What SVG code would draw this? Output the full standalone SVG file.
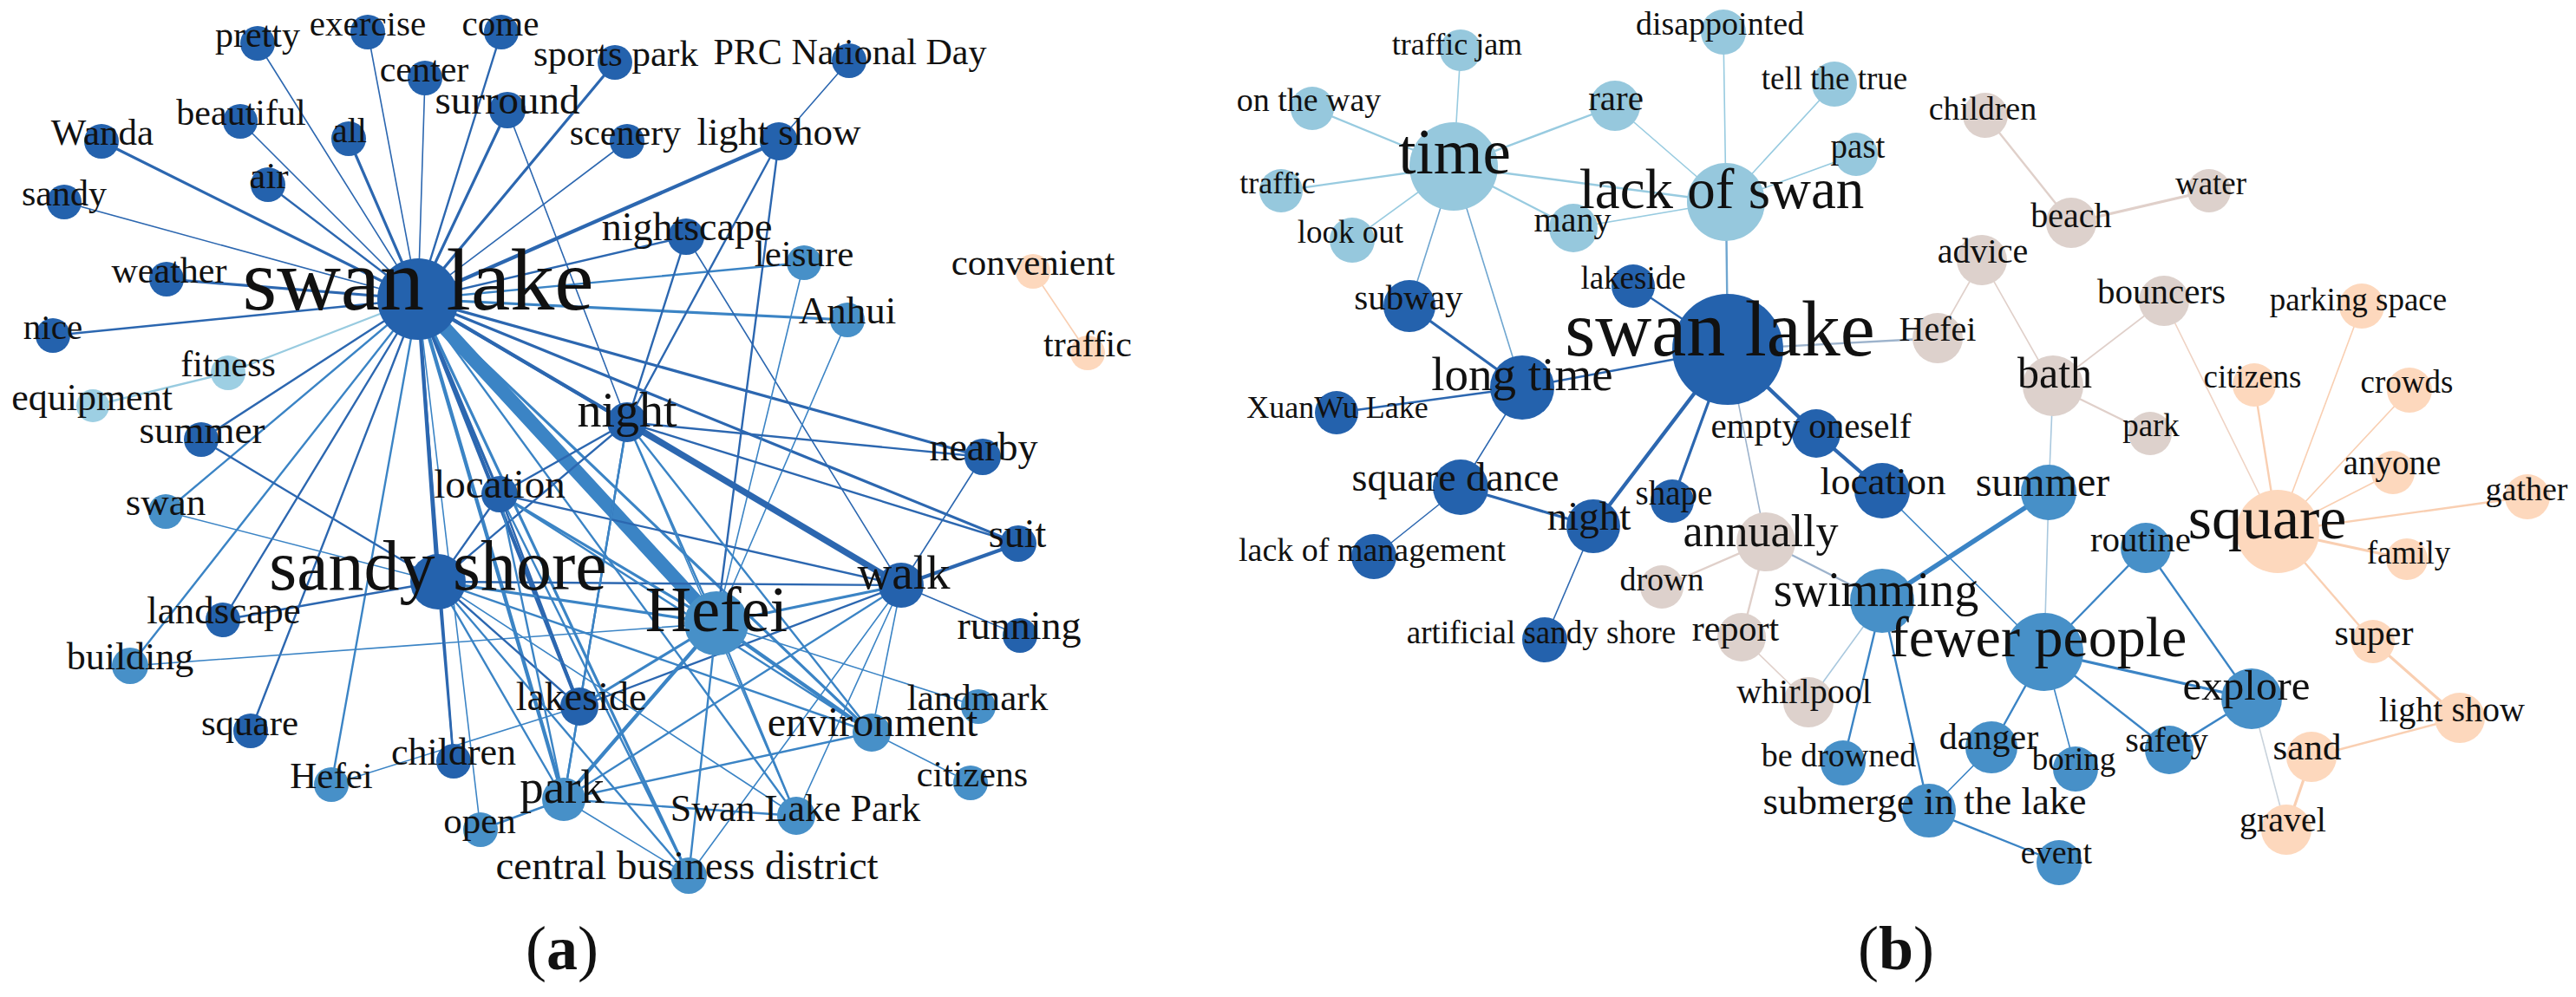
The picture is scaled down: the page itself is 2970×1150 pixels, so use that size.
<svg xmlns="http://www.w3.org/2000/svg" width="2970" height="1150" viewBox="0 0 2970 1150">
<style>
.bg{fill:#fff}
.n circle{stroke:none}
.D{fill:#2462ad}.M{fill:#4790c8}.L{fill:#9dcfe3}.P{fill:#fdd8bd}.R{fill:#96c8dd}.G{fill:#ddd1cc}
text{font-family:"Liberation Serif","Times New Roman",serif;fill:#111;text-anchor:middle}
#edges line{fill:none;stroke-linecap:round}
.ed{stroke:#2c67b0}.em{stroke:#3b84c5}.el{stroke:#98cbe0}.ep{stroke:#f9cfb2}.eg{stroke:#e0d0ca}
.ex{stroke:#6fa6d0}.ey{stroke:#9db3cc}.ez{stroke:#a9c8de}.eq{stroke:#c9d3dc}.ek{stroke:#efd3c4}
.w1{stroke-width:1.6}.w2{stroke-width:2.4}.w3{stroke-width:3.2}.w4{stroke-width:4.3}.w5{stroke-width:5.6}.w6{stroke-width:7.5}.w9{stroke-width:16}
.cap{font-size:72px}
</style>
<rect class="bg" x="0" y="0" width="2970" height="1150"/>
<g id="edges">
<!-- panel a: swan lake hub -->
<line class="ed w1" x1="482" y1="345" x2="297" y2="50"/>
<line class="ed w1" x1="482" y1="345" x2="424" y2="37"/>
<line class="ed w2" x1="482" y1="345" x2="578" y2="37"/>
<line class="ed w1" x1="482" y1="345" x2="490" y2="90"/>
<line class="ed w3" x1="482" y1="345" x2="585" y2="127"/>
<line class="ed w1" x1="482" y1="345" x2="277" y2="140"/>
<line class="ed w3" x1="482" y1="345" x2="402" y2="160"/>
<line class="ed w3" x1="482" y1="345" x2="117" y2="163"/>
<line class="ed w2" x1="482" y1="345" x2="309" y2="213"/>
<line class="ed w1" x1="482" y1="345" x2="74" y2="233"/>
<line class="ed w3" x1="482" y1="345" x2="192" y2="322"/>
<line class="ed w2" x1="482" y1="345" x2="61" y2="387"/>
<line class="el w2" x1="482" y1="345" x2="263" y2="430"/>
<line class="el w2" x1="263" y1="430" x2="107" y2="468"/>
<line class="ed w3" x1="482" y1="345" x2="709" y2="72"/>
<line class="ed w1" x1="482" y1="345" x2="723" y2="163"/>
<line class="ed w4" x1="482" y1="345" x2="898" y2="163"/>
<line class="ed w2" x1="482" y1="345" x2="791" y2="273"/>
<line class="em w2" x1="482" y1="345" x2="927" y2="303"/>
<line class="em w3" x1="482" y1="345" x2="977" y2="369"/>
<line class="ed w3" x1="482" y1="345" x2="1133" y2="527"/>
<line class="ed w3" x1="482" y1="345" x2="1174" y2="627"/>
<line class="ed w4" x1="482" y1="345" x2="723" y2="487"/>
<line class="ed w3" x1="482" y1="345" x2="1039" y2="675"/>
<line class="ed w4" x1="482" y1="345" x2="505" y2="671"/>
<line class="ed w3" x1="482" y1="345" x2="576" y2="570"/>
<line class="ed w4" x1="482" y1="345" x2="668" y2="815"/>
<line class="em w4" x1="482" y1="345" x2="650" y2="922"/>
<line class="ed w2" x1="482" y1="345" x2="232" y2="507"/>
<line class="em w2" x1="482" y1="345" x2="191" y2="590"/>
<line class="ed w2" x1="482" y1="345" x2="257" y2="715"/>
<line class="em w2" x1="482" y1="345" x2="150" y2="768"/>
<line class="ed w2" x1="482" y1="345" x2="289" y2="843"/>
<line class="em w2" x1="482" y1="345" x2="382" y2="905"/>
<line class="ed w2" x1="482" y1="345" x2="523" y2="878"/>
<line class="em w3" x1="482" y1="345" x2="794" y2="1010"/>
<line class="em w3" x1="482" y1="345" x2="1005" y2="845"/>
<line class="em w2" x1="482" y1="345" x2="918" y2="941"/>
<line class="em w1" x1="482" y1="345" x2="554" y2="957"/>
<line class="em w9" x1="482" y1="345" x2="826" y2="719"/>
<!-- panel a: others -->
<line class="ed w1" x1="979" y1="70" x2="898" y2="163"/>
<line class="ed w1" x1="585" y1="127" x2="723" y2="487"/>
<line class="ed w2" x1="898" y1="163" x2="723" y2="487"/>
<line class="ed w2" x1="898" y1="163" x2="826" y2="719"/>
<line class="ed w2" x1="791" y1="273" x2="723" y2="487"/>
<line class="ed w1" x1="791" y1="273" x2="1039" y2="675"/>
<line class="em w1" x1="927" y1="303" x2="826" y2="719"/>
<line class="em w1" x1="977" y1="369" x2="826" y2="719"/>
<line class="ep w1" x1="1191" y1="313" x2="1254" y2="407"/>
<line class="ed w2" x1="232" y1="507" x2="505" y2="671"/>
<line class="em w1" x1="191" y1="590" x2="505" y2="671"/>
<line class="ed w2" x1="257" y1="715" x2="505" y2="671"/>
<line class="em w1" x1="150" y1="768" x2="826" y2="719"/>
<line class="ed w2" x1="505" y1="671" x2="576" y2="570"/>
<line class="ed w2" x1="505" y1="671" x2="723" y2="487"/>
<line class="em w3" x1="505" y1="671" x2="826" y2="719"/>
<line class="ed w2" x1="505" y1="671" x2="1039" y2="675"/>
<line class="ed w2" x1="505" y1="671" x2="668" y2="815"/>
<line class="em w2" x1="505" y1="671" x2="650" y2="922"/>
<line class="ed w2" x1="505" y1="671" x2="523" y2="878"/>
<line class="em w2" x1="505" y1="671" x2="794" y2="1010"/>
<line class="em w1" x1="505" y1="671" x2="918" y2="941"/>
<line class="em w2" x1="505" y1="671" x2="1005" y2="845"/>
<line class="ed w2" x1="576" y1="570" x2="723" y2="487"/>
<line class="em w3" x1="576" y1="570" x2="826" y2="719"/>
<line class="ed w2" x1="576" y1="570" x2="1039" y2="675"/>
<line class="ed w2" x1="576" y1="570" x2="668" y2="815"/>
<line class="em w2" x1="576" y1="570" x2="650" y2="922"/>
<line class="em w2" x1="576" y1="570" x2="794" y2="1010"/>
<line class="em w2" x1="576" y1="570" x2="1005" y2="845"/>
<line class="em w2" x1="723" y1="487" x2="826" y2="719"/>
<line class="ed w6" x1="723" y1="487" x2="1039" y2="675"/>
<line class="ed w2" x1="723" y1="487" x2="1133" y2="527"/>
<line class="ed w2" x1="723" y1="487" x2="1174" y2="627"/>
<line class="ed w2" x1="723" y1="487" x2="668" y2="815"/>
<line class="em w2" x1="723" y1="487" x2="650" y2="922"/>
<line class="em w2" x1="723" y1="487" x2="1005" y2="845"/>
<line class="em w1" x1="723" y1="487" x2="918" y2="941"/>
<line class="ed w4" x1="1039" y1="675" x2="1174" y2="627"/>
<line class="ed w1" x1="1039" y1="675" x2="1133" y2="527"/>
<line class="ed w1" x1="1039" y1="675" x2="1176" y2="733"/>
<line class="em w3" x1="1039" y1="675" x2="826" y2="719"/>
<line class="ed w2" x1="1039" y1="675" x2="668" y2="815"/>
<line class="em w2" x1="1039" y1="675" x2="650" y2="922"/>
<line class="em w1" x1="1039" y1="675" x2="1005" y2="845"/>
<line class="em w1" x1="1039" y1="675" x2="794" y2="1010"/>
<line class="em w1" x1="1039" y1="675" x2="918" y2="941"/>
<line class="em w3" x1="826" y1="719" x2="668" y2="815"/>
<line class="em w4" x1="826" y1="719" x2="650" y2="922"/>
<line class="em w2" x1="826" y1="719" x2="794" y2="1010"/>
<line class="em w2" x1="826" y1="719" x2="918" y2="941"/>
<line class="em w4" x1="826" y1="719" x2="1005" y2="845"/>
<line class="em w1" x1="826" y1="719" x2="1128" y2="815"/>
<line class="em w1" x1="1005" y1="845" x2="1119" y2="903"/>
<line class="em w2" x1="1005" y1="845" x2="650" y2="922"/>
<line class="em w2" x1="668" y1="815" x2="650" y2="922"/>
<line class="em w2" x1="650" y1="922" x2="918" y2="941"/>
<line class="em w2" x1="650" y1="922" x2="554" y2="957"/>
<line class="em w1" x1="650" y1="922" x2="794" y2="1010"/>
<line class="em w1" x1="668" y1="815" x2="382" y2="905"/>
<!-- panel b -->
<line class="el w1" x1="1676" y1="192" x2="1684" y2="58"/>
<line class="el w2" x1="1676" y1="192" x2="1513" y2="125"/>
<line class="el w2" x1="1676" y1="192" x2="1862" y2="122"/>
<line class="el w2" x1="1676" y1="192" x2="1477" y2="220"/>
<line class="el w1" x1="1676" y1="192" x2="1559" y2="277"/>
<line class="el w2" x1="1676" y1="192" x2="1814" y2="263"/>
<line class="el w2" x1="1676" y1="192" x2="1990" y2="233"/>
<line class="ex w1" x1="1676" y1="192" x2="1625" y2="353"/>
<line class="ex w1" x1="1676" y1="192" x2="1755" y2="447"/>
<line class="el w1" x1="1990" y1="233" x2="1862" y2="122"/>
<line class="el w1" x1="1990" y1="233" x2="1987" y2="37"/>
<line class="el w1" x1="1990" y1="233" x2="2115" y2="97"/>
<line class="el w1" x1="1990" y1="233" x2="2140" y2="178"/>
<line class="el w1" x1="1990" y1="233" x2="1814" y2="263"/>
<line class="ex w2" x1="1990" y1="233" x2="1992" y2="403"/>
<line class="ed w2" x1="1992" y1="403" x2="1883" y2="330"/>
<line class="ed w2" x1="1992" y1="403" x2="1755" y2="447"/>
<line class="ed w4" x1="1992" y1="403" x2="1837" y2="607"/>
<line class="ed w3" x1="1992" y1="403" x2="1928" y2="578"/>
<line class="ey w1" x1="1992" y1="403" x2="2036" y2="625"/>
<line class="ed w4" x1="1992" y1="403" x2="2094" y2="500"/>
<line class="ey w2" x1="1992" y1="403" x2="2234" y2="390"/>
<line class="ed w4" x1="2094" y1="500" x2="2170" y2="566"/>
<line class="ed w3" x1="1755" y1="447" x2="1625" y2="353"/>
<line class="ed w2" x1="1755" y1="447" x2="1541" y2="476"/>
<line class="ed w1" x1="1755" y1="447" x2="1684" y2="562"/>
<line class="ed w3" x1="1684" y1="562" x2="1837" y2="607"/>
<line class="ed w1" x1="1684" y1="562" x2="1584" y2="642"/>
<line class="ed w1" x1="1837" y1="607" x2="1781" y2="738"/>
<line class="eg w2" x1="2036" y1="625" x2="1916" y2="677"/>
<line class="eg w2" x1="2036" y1="625" x2="2008" y2="735"/>
<line class="ey w2" x1="2036" y1="625" x2="2170" y2="693"/>
<line class="eg w1" x1="2008" y1="735" x2="2085" y2="810"/>
<line class="ez w1" x1="2085" y1="810" x2="2170" y2="693"/>
<line class="em w5" x1="2170" y1="693" x2="2362" y2="568"/>
<line class="em w2" x1="2170" y1="693" x2="2125" y2="880"/>
<line class="em w2" x1="2170" y1="693" x2="2224" y2="935"/>
<line class="em w1" x1="2170" y1="566" x2="2357" y2="752"/>
<line class="ez w1" x1="2362" y1="568" x2="2367" y2="445"/>
<line class="ez w1" x1="2362" y1="568" x2="2357" y2="752"/>
<line class="em w2" x1="2357" y1="752" x2="2474" y2="632"/>
<line class="em w3" x1="2357" y1="752" x2="2596" y2="806"/>
<line class="em w2" x1="2357" y1="752" x2="2296" y2="862"/>
<line class="em w1" x1="2357" y1="752" x2="2393" y2="887"/>
<line class="em w2" x1="2357" y1="752" x2="2501" y2="865"/>
<line class="em w2" x1="2474" y1="632" x2="2596" y2="806"/>
<line class="em w2" x1="2596" y1="806" x2="2501" y2="865"/>
<line class="eq w1" x1="2596" y1="806" x2="2636" y2="957"/>
<line class="em w1" x1="2296" y1="862" x2="2224" y2="935"/>
<line class="em w2" x1="2224" y1="935" x2="2374" y2="995"/>
<line class="eg w1" x1="2367" y1="445" x2="2495" y2="347"/>
<line class="eg w2" x1="2367" y1="445" x2="2479" y2="500"/>
<line class="eg w1" x1="2367" y1="445" x2="2285" y2="300"/>
<line class="eg w1" x1="2285" y1="300" x2="2234" y2="390"/>
<line class="eg w2" x1="2388" y1="257" x2="2289" y2="133"/>
<line class="eg w3" x1="2388" y1="257" x2="2547" y2="220"/>
<line class="ek w1" x1="2495" y1="347" x2="2626" y2="613"/>
<line class="ep w2" x1="2626" y1="613" x2="2599" y2="444"/>
<line class="ep w1" x1="2626" y1="613" x2="2723" y2="353"/>
<line class="ep w1" x1="2626" y1="613" x2="2778" y2="450"/>
<line class="ep w1" x1="2626" y1="613" x2="2759" y2="545"/>
<line class="ep w2" x1="2626" y1="613" x2="2914" y2="573"/>
<line class="ep w3" x1="2626" y1="613" x2="2775" y2="645"/>
<line class="ep w2" x1="2626" y1="613" x2="2736" y2="740"/>
<line class="ep w3" x1="2736" y1="740" x2="2836" y2="828"/>
<line class="ep w2" x1="2836" y1="828" x2="2665" y2="873"/>
<line class="ep w3" x1="2665" y1="873" x2="2636" y2="957"/>
</g>
<!-- panel a nodes -->
<g id="a-pretty" class="n"><circle class="D" cx="297" cy="50" r="20"/><text x="297" y="54" font-size="42">pretty</text></g>
<g id="a-exercise" class="n"><circle class="D" cx="424" cy="37" r="20"/><text x="424" y="41" font-size="41">exercise</text></g>
<g id="a-come" class="n"><circle class="D" cx="578" cy="37" r="20"/><text x="577" y="41" font-size="41">come</text></g>
<g id="a-center" class="n"><circle class="D" cx="490" cy="90" r="20"/><text x="489" y="94" font-size="42">center</text></g>
<g id="a-surround" class="n"><circle class="D" cx="585" cy="127" r="21"/><text x="585" y="131" font-size="47">surround</text></g>
<g id="a-beautiful" class="n"><circle class="D" cx="277" cy="140" r="20"/><text x="278" y="144" font-size="42">beautiful</text></g>
<g id="a-all" class="n"><circle class="D" cx="402" cy="160" r="20"/><text x="403" y="164" font-size="40">all</text></g>
<g id="a-wanda" class="n"><circle class="D" cx="117" cy="163" r="20"/><text x="118" y="167" font-size="43">Wanda</text></g>
<g id="a-air" class="n"><circle class="D" cx="309" cy="213" r="20"/><text x="310" y="217" font-size="43">air</text></g>
<g id="a-sandy" class="n"><circle class="D" cx="74" cy="233" r="20"/><text x="74" y="237" font-size="42">sandy</text></g>
<g id="a-weather" class="n"><circle class="D" cx="192" cy="322" r="20"/><text x="195" y="326" font-size="42">weather</text></g>
<g id="a-nice" class="n"><circle class="D" cx="61" cy="387" r="20"/><text x="61" y="391" font-size="41">nice</text></g>
<g id="a-fitness" class="n"><circle class="L" cx="263" cy="430" r="20"/><text x="263" y="434" font-size="42">fitness</text></g>
<g id="a-equipment" class="n"><circle class="L" cx="107" cy="468" r="19"/><text x="106" y="473" font-size="44">equipment</text></g>
<g id="a-sports-park" class="n"><circle class="D" cx="709" cy="72" r="20"/><text x="710" y="76" font-size="43">sports park</text></g>
<g id="a-prc" class="n"><circle class="D" cx="979" cy="70" r="20"/><text x="980" y="74" font-size="42">PRC National Day</text></g>
<g id="a-scenery" class="n"><circle class="D" cx="723" cy="163" r="20"/><text x="721" y="167" font-size="42">scenery</text></g>
<g id="a-light-show" class="n"><circle class="D" cx="898" cy="163" r="22"/><text x="898" y="167" font-size="45">light show</text></g>
<g id="a-nightscape" class="n"><circle class="D" cx="791" cy="273" r="21"/><text x="792" y="277" font-size="46">nightscape</text></g>
<g id="a-leisure" class="n"><circle class="M" cx="927" cy="303" r="20"/><text x="927" y="307" font-size="43">leisure</text></g>
<g id="a-anhui" class="n"><circle class="M" cx="977" cy="369" r="20"/><text x="977" y="373" font-size="45">Anhui</text></g>
<g id="a-convenient" class="n"><circle class="P" cx="1191" cy="313" r="20"/><text x="1191" y="317" font-size="43">convenient</text></g>
<g id="a-traffic" class="n"><circle class="P" cx="1254" cy="407" r="20"/><text x="1254" y="411" font-size="42">traffic</text></g>
<g id="a-summer" class="n"><circle class="D" cx="232" cy="507" r="20"/><text x="233" y="511" font-size="45">summer</text></g>
<g id="a-swan" class="n"><circle class="M" cx="191" cy="590" r="20"/><text x="191" y="594" font-size="45">swan</text></g>
<g id="a-landscape" class="n"><circle class="D" cx="257" cy="715" r="20"/><text x="258" y="719" font-size="45">landscape</text></g>
<g id="a-building" class="n"><circle class="M" cx="150" cy="768" r="21"/><text x="150" y="772" font-size="44">building</text></g>
<g id="a-square" class="n"><circle class="D" cx="289" cy="843" r="20"/><text x="288" y="848" font-size="43">square</text></g>
<g id="a-nearby" class="n"><circle class="D" cx="1133" cy="527" r="21"/><text x="1134" y="531" font-size="46">nearby</text></g>
<g id="a-suit" class="n"><circle class="D" cx="1174" cy="627" r="21"/><text x="1173" y="631" font-size="46">suit</text></g>
<g id="a-running" class="n"><circle class="D" cx="1176" cy="733" r="20"/><text x="1175" y="737" font-size="46">running</text></g>
<g id="a-landmark" class="n"><circle class="M" cx="1128" cy="815" r="20"/><text x="1127" y="819" font-size="43">landmark</text></g>
<g id="a-children" class="n"><circle class="D" cx="523" cy="878" r="20"/><text x="523" y="882" font-size="44">children</text></g>
<g id="a-hefei-small" class="n"><circle class="M" cx="382" cy="905" r="20"/><text x="382" y="909" font-size="43">Hefei</text></g>
<g id="a-citizens" class="n"><circle class="M" cx="1119" cy="903" r="20"/><text x="1121" y="907" font-size="42">citizens</text></g>
<g id="a-open" class="n"><circle class="M" cx="554" cy="957" r="20"/><text x="553" y="961" font-size="43">open</text></g>
<g id="a-cbd" class="n"><circle class="M" cx="794" cy="1010" r="21"/><text x="792" y="1014" font-size="47">central business district</text></g>
<g id="a-location" class="n"><circle class="D" cx="576" cy="570" r="21"/><text x="576" y="574" font-size="47">location</text></g>
<g id="a-lakeside" class="n"><circle class="D" cx="668" cy="815" r="22"/><text x="670" y="819" font-size="46">lakeside</text></g>
<g id="a-environment" class="n"><circle class="M" cx="1005" cy="845" r="22"/><text x="1006" y="849" font-size="48">environment</text></g>
<g id="a-swan-lake-park" class="n"><circle class="M" cx="918" cy="941" r="22"/><text x="917" y="947" font-size="44">Swan Lake Park</text></g>
<g id="a-park" class="n"><circle class="M" cx="650" cy="922" r="25"/><text x="648" y="926" font-size="55">park</text></g>
<g id="a-night" class="n"><circle class="D" cx="723" cy="487" r="23"/><text x="723" y="492" font-size="56">night</text></g>
<g id="a-walk" class="n"><circle class="D" cx="1039" cy="675" r="26"/><text x="1042" y="679" font-size="55">walk</text></g>
<g id="a-sandy-shore" class="n"><circle class="D" cx="505" cy="671" r="32"/><text x="505" y="680" font-size="82">sandy shore</text></g>
<g id="a-hefei" class="n"><circle class="M" cx="826" cy="719" r="37"/><text x="826" y="728" font-size="74">Hefei</text></g>
<g id="a-swan-lake" class="n"><circle class="D" cx="482" cy="345" r="47"/><text x="482" y="357" font-size="102">swan lake</text></g>
<!-- panel b nodes -->
<g id="b-traffic-jam" class="n"><circle class="R" cx="1684" cy="58" r="24"/><text x="1680" y="63" font-size="36">traffic jam</text></g>
<g id="b-disappointed" class="n"><circle class="R" cx="1987" cy="37" r="26"/><text x="1983" y="40" font-size="38">disappointed</text></g>
<g id="b-tell-the-true" class="n"><circle class="R" cx="2115" cy="97" r="26"/><text x="2115" y="103" font-size="37">tell the true</text></g>
<g id="b-on-the-way" class="n"><circle class="R" cx="1513" cy="125" r="25"/><text x="1509" y="128" font-size="38">on the way</text></g>
<g id="b-rare" class="n"><circle class="R" cx="1862" cy="122" r="29"/><text x="1863" y="127" font-size="41">rare</text></g>
<g id="b-past" class="n"><circle class="R" cx="2140" cy="178" r="25"/><text x="2142" y="182" font-size="39">past</text></g>
<g id="b-traffic" class="n"><circle class="R" cx="1477" cy="220" r="25"/><text x="1473" y="223" font-size="36">traffic</text></g>
<g id="b-look-out" class="n"><circle class="R" cx="1559" cy="277" r="26"/><text x="1557" y="280" font-size="37">look out</text></g>
<g id="b-many" class="n"><circle class="R" cx="1814" cy="263" r="28"/><text x="1813" y="267" font-size="40">many</text></g>
<g id="b-time" class="n"><circle class="R" cx="1676" cy="192" r="51"/><text x="1677" y="200" font-size="73">time</text></g>
<g id="b-lack-of-swan" class="n"><circle class="R" cx="1990" cy="233" r="45"/><text x="1985" y="240" font-size="65">lack of swan</text></g>
<g id="b-lakeside" class="n"><circle class="D" cx="1883" cy="330" r="25"/><text x="1883" y="333" font-size="37">lakeside</text></g>
<g id="b-subway" class="n"><circle class="D" cx="1625" cy="353" r="30"/><text x="1624" y="357" font-size="41">subway</text></g>
<g id="b-xuanwu-lake" class="n"><circle class="D" cx="1541" cy="476" r="25"/><text x="1542" y="482" font-size="36">XuanWu Lake</text></g>
<g id="b-lack-of-management" class="n"><circle class="D" cx="1584" cy="642" r="26"/><text x="1582" y="647" font-size="38">lack of management</text></g>
<g id="b-artificial-sandy-shore" class="n"><circle class="D" cx="1781" cy="738" r="26"/><text x="1777" y="742" font-size="37">artificial sandy shore</text></g>
<g id="b-square-dance" class="n"><circle class="D" cx="1684" cy="562" r="32"/><text x="1678" y="566" font-size="46">square dance</text></g>
<g id="b-night" class="n"><circle class="D" cx="1837" cy="607" r="31"/><text x="1832" y="611" font-size="47">night</text></g>
<g id="b-shape" class="n"><circle class="D" cx="1928" cy="578" r="25"/><text x="1930" y="582" font-size="39">shape</text></g>
<g id="b-empty-oneself" class="n"><circle class="D" cx="2094" cy="500" r="28"/><text x="2088" y="505" font-size="41">empty oneself</text></g>
<g id="b-location" class="n"><circle class="D" cx="2170" cy="566" r="32"/><text x="2171" y="570" font-size="45">location</text></g>
<g id="b-long-time" class="n"><circle class="D" cx="1755" cy="447" r="37"/><text x="1755" y="450" font-size="55">long time</text></g>
<g id="b-drown" class="n"><circle class="G" cx="1916" cy="677" r="25"/><text x="1916" y="681" font-size="38">drown</text></g>
<g id="b-report" class="n"><circle class="G" cx="2008" cy="735" r="28"/><text x="2001" y="739" font-size="42">report</text></g>
<g id="b-whirlpool" class="n"><circle class="G" cx="2085" cy="810" r="29"/><text x="2080" y="811" font-size="40">whirlpool</text></g>
<g id="b-annually" class="n"><circle class="G" cx="2036" cy="625" r="34"/><text x="2030" y="630" font-size="52">annually</text></g>
<g id="b-children" class="n"><circle class="G" cx="2289" cy="133" r="26"/><text x="2286" y="138" font-size="38">children</text></g>
<g id="b-water" class="n"><circle class="G" cx="2547" cy="220" r="25"/><text x="2549" y="224" font-size="37">water</text></g>
<g id="b-beach" class="n"><circle class="G" cx="2388" cy="257" r="29"/><text x="2388" y="262" font-size="40">beach</text></g>
<g id="b-advice" class="n"><circle class="G" cx="2285" cy="300" r="29"/><text x="2286" y="303" font-size="40">advice</text></g>
<g id="b-bouncers" class="n"><circle class="G" cx="2495" cy="347" r="29"/><text x="2492" y="350" font-size="41">bouncers</text></g>
<g id="b-hefei" class="n"><circle class="G" cx="2234" cy="390" r="29"/><text x="2234" y="393" font-size="40">Hefei</text></g>
<g id="b-park" class="n"><circle class="G" cx="2479" cy="500" r="25"/><text x="2480" y="503" font-size="37">park</text></g>
<g id="b-bath" class="n"><circle class="G" cx="2367" cy="445" r="35"/><text x="2369" y="447" font-size="50">bath</text></g>
<g id="b-parking-space" class="n"><circle class="P" cx="2723" cy="353" r="26"/><text x="2719" y="358" font-size="37">parking space</text></g>
<g id="b-citizens" class="n"><circle class="P" cx="2599" cy="444" r="25"/><text x="2597" y="447" font-size="37">citizens</text></g>
<g id="b-crowds" class="n"><circle class="P" cx="2778" cy="450" r="26"/><text x="2775" y="453" font-size="37">crowds</text></g>
<g id="b-anyone" class="n"><circle class="P" cx="2759" cy="545" r="25"/><text x="2758" y="547" font-size="39">anyone</text></g>
<g id="b-gather" class="n"><circle class="P" cx="2914" cy="573" r="26"/><text x="2913" y="577" font-size="38">gather</text></g>
<g id="b-family" class="n"><circle class="P" cx="2775" cy="645" r="24"/><text x="2777" y="650" font-size="37">family</text></g>
<g id="b-super" class="n"><circle class="P" cx="2736" cy="740" r="25"/><text x="2737" y="744" font-size="42">super</text></g>
<g id="b-light-show" class="n"><circle class="P" cx="2836" cy="828" r="29"/><text x="2827" y="832" font-size="40">light show</text></g>
<g id="b-sand" class="n"><circle class="P" cx="2665" cy="873" r="29"/><text x="2660" y="876" font-size="43">sand</text></g>
<g id="b-gravel" class="n"><circle class="P" cx="2636" cy="957" r="29"/><text x="2632" y="959" font-size="40">gravel</text></g>
<g id="b-square" class="n"><circle class="P" cx="2626" cy="613" r="48"/><text x="2614" y="621" font-size="70">square</text></g>
<g id="b-routine" class="n"><circle class="M" cx="2474" cy="632" r="29"/><text x="2468" y="636" font-size="41">routine</text></g>
<g id="b-summer" class="n"><circle class="M" cx="2362" cy="568" r="32"/><text x="2355" y="572" font-size="48">summer</text></g>
<g id="b-be-drowned" class="n"><circle class="M" cx="2125" cy="880" r="26"/><text x="2120" y="884" font-size="38">be drowned</text></g>
<g id="b-danger" class="n"><circle class="M" cx="2296" cy="862" r="30"/><text x="2293" y="864" font-size="42">danger</text></g>
<g id="b-boring" class="n"><circle class="M" cx="2393" cy="887" r="26"/><text x="2391" y="888" font-size="37">boring</text></g>
<g id="b-safety" class="n"><circle class="M" cx="2501" cy="865" r="28"/><text x="2498" y="867" font-size="40">safety</text></g>
<g id="b-event" class="n"><circle class="M" cx="2374" cy="995" r="26"/><text x="2371" y="996" font-size="38">event</text></g>
<g id="b-submerge" class="n"><circle class="M" cx="2224" cy="935" r="31"/><text x="2219" y="939" font-size="45">submerge in the lake</text></g>
<g id="b-explore" class="n"><circle class="M" cx="2596" cy="806" r="35"/><text x="2590" y="807" font-size="49">explore</text></g>
<g id="b-swimming" class="n"><circle class="M" cx="2170" cy="693" r="37"/><text x="2163" y="699" font-size="56">swimming</text></g>
<g id="b-fewer-people" class="n"><circle class="M" cx="2357" cy="752" r="45"/><text x="2350" y="757" font-size="66">fewer people</text></g>
<g id="b-swan-lake" class="n"><circle class="D" cx="1992" cy="403" r="64"/><text x="1983" y="410" font-size="90">swan lake</text></g>
<!-- captions -->
<text class="cap" x="648" y="1118">(<tspan font-weight="bold">a</tspan>)</text>
<text class="cap" x="2186" y="1118">(<tspan font-weight="bold">b</tspan>)</text>
</svg>
